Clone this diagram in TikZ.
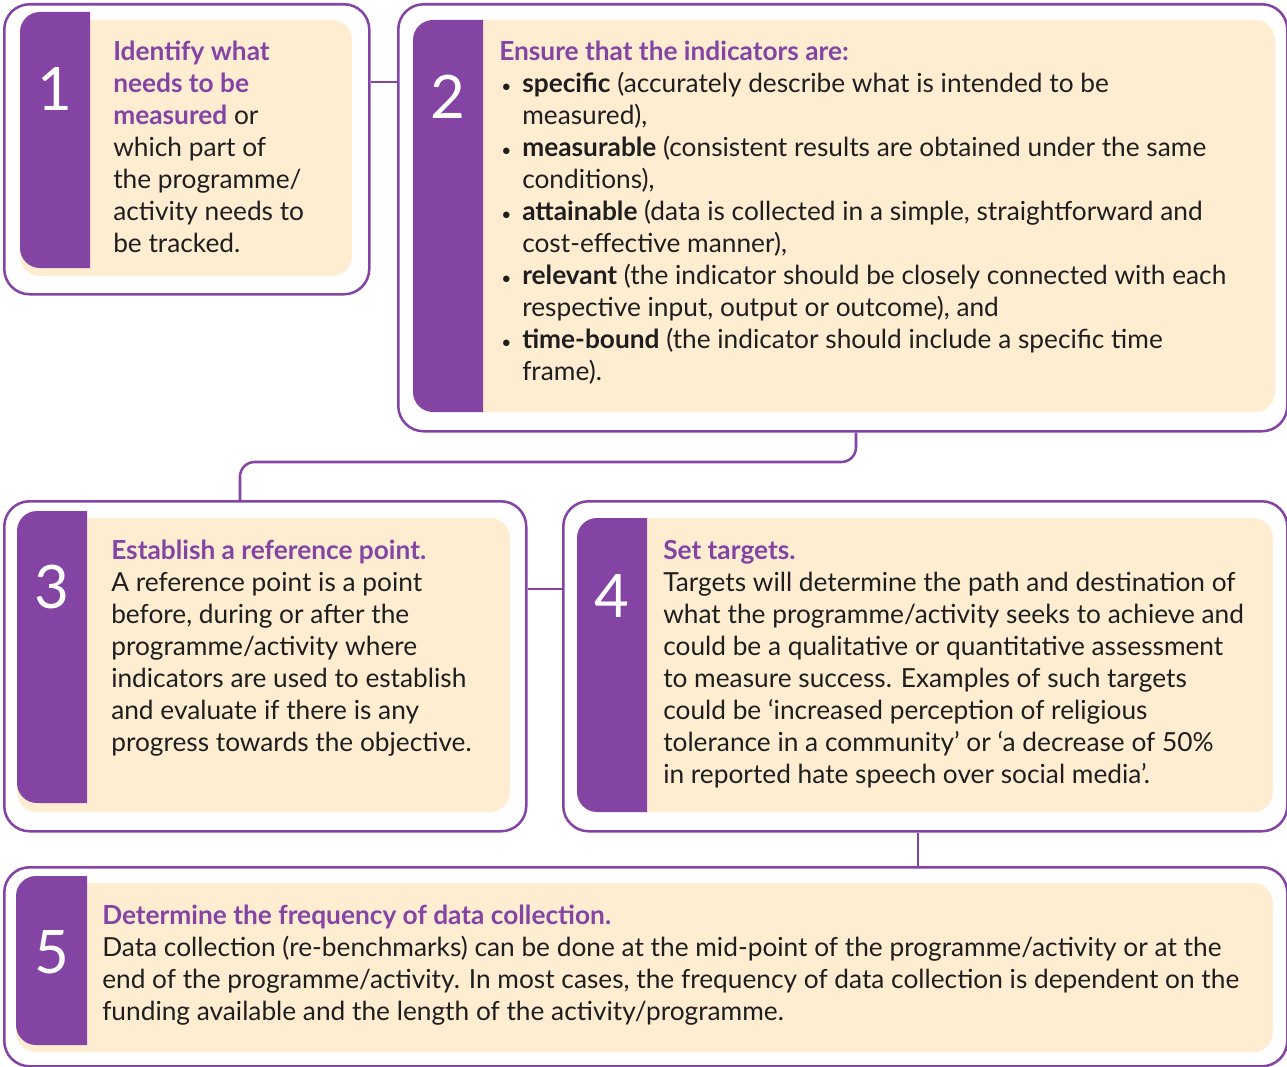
\documentclass[tikz,border=0pt]{standalone}
\usepackage{fontspec}
\setmainfont{Lato}
\usepackage{xcolor}
\usetikzlibrary{positioning}

\definecolor{stepPurple}{HTML}{8444A3}
\definecolor{stepCream}{HTML}{FFEDD2}
\definecolor{stepInk}{HTML}{1E1E1E}

\newcommand\bul{\makebox[17.25pt][l]{\hspace{1.5pt}\raisebox{0.5pt}{\fontsize{13}{13}\selectfont\textbullet}}}
\newcommand\ind{\hspace*{17.25pt}}
\newcommand\hd[1]{{\color{stepPurple}\bfseries #1}}
% purple tab with rounded left corners only
\newcommand\steptab[4]{%
  \begin{scope}
    \clip (#1,#2) rectangle (#3,#4);
    \fill[stepPurple, rounded corners=15pt] (#1,#2) rectangle (#3+40,#4);
  \end{scope}}

\tikzset{
  stepouter/.style 2 args={draw=stepPurple, line width=1.9pt, fill=white,
    rounded corners=19pt, inner sep=0pt, anchor=north west,
    minimum width=#1*0.75pt, minimum height=#2*0.75pt},
  stepcream/.style={fill=stepCream, rounded corners=15pt},
  steplink/.style={draw=stepPurple, line width=1.9pt},
  stepnum/.style={text=white, font=\fontsize{45}{45}\selectfont},
  steptext/.style={text=stepInk, align=left, inner sep=0pt, anchor=north west,
    font=\fontsize{19.7}{24}\selectfont},
}

\begin{document}
\begin{tikzpicture}[x=0.75pt, y=-0.75pt]
    \useasboundingbox (0,0) rectangle (1287,1066);

    % outer frames
    \node[stepouter={365}{290}] (step1) at (3,3) {};
    \node[stepouter={889}{427}] (step2) at (397,3) {};
    \node[stepouter={522}{330}] (step3) at (3,500) {};
    \node[stepouter={724}{330}] (step4) at (562,500) {};
    \node[stepouter={1283}{199}] (step5) at (3,866) {};

    % links
    \coordinate (j12) at (380,82);
    \coordinate (j23) at (856,462);
    \coordinate (j3) at (240,480);
    \coordinate (j34) at (540,589);
    \coordinate (j45) at (918,848);
    \draw[steplink] (step1.east |- j12) -- (step2.west |- j12);
    \draw[steplink, rounded corners=11pt] (step2.south -| j23) -- (j23) -| (step3.north -| j3);
    \draw[steplink] (step3.east |- j34) -- (step4.west |- j34);
    \draw[steplink] (step4.south -| j45) -- (step5.north -| j45);

    % cream panels and tabs
    \fill[stepcream] (20,20) rectangle (352,276);
    \steptab{20}{12}{90}{268}
    \fill[stepcream] (413,20) rectangle (1275,412);
    \steptab{413}{20}{483}{412}
    \fill[stepcream] (17,518) rectangle (510,812);
    \steptab{17}{511}{87}{803}
    \fill[stepcream] (577,518) rectangle (1273,812);
    \steptab{577}{518}{647}{812}
    \fill[stepcream] (16,883) rectangle (1273,1052);
    \steptab{16}{876}{87}{1045}

    % numbers
    \node[stepnum] (n1) at (55,89) {1};
    \node[stepnum] (n2) at (448,97) {2};
    \node[stepnum] (n3) at (52,587) {3};
    \node[stepnum] (n4) at (612,596) {4};
    \node[stepnum] (n5) at (52,952) {5};

    % texts
    \node[steptext] (t1) at (113,41) {\hd{Identify what}\\
      \hd{needs to be}\\
      \hd{measured} or\\
      which part of\\
      the programme/\\
      activity needs to\\
      be tracked.};
    \node[steptext] (t2) at (499,41) {\hd{Ensure that the indicators are:}\\
      \bul\textbf{specific} (accurately describe what is intended to be\\
      \ind measured),\\
      \bul\textbf{measurable} (consistent results are obtained under the same\\
      \ind conditions),\\
      \bul\textbf{attainable} (data is collected in a simple, straightforward and\\
      \ind cost-effective manner),\\
      \bul\textbf{relevant} (the indicator should be closely connected with each\\
      \ind respective input, output or outcome), and\\
      \bul\textbf{time-bound} (the indicator should include a specific time\\
      \ind frame).};
    \node[steptext] (t3) at (111,540) {\hd{Establish a reference point.}\\
      A reference point is a point\\
      before, during or after the\\
      programme/activity where\\
      indicators are used to establish\\
      and evaluate if there is any\\
      progress towards the objective.};
    \node[steptext] (t4) at (663,540) {\hd{Set targets.}\\
      Targets will determine the path and destination of\\
      what the programme/activity seeks to achieve and\\
      could be a qualitative or quantitative assessment\\
      to measure success. Examples of such targets\\
      could be ‘increased perception of religious\\
      tolerance in a community’ or ‘a decrease of 50\%\\
      in reported hate speech over social media’.};
    \node[steptext] (t5) at (102,905) {\hd{Determine the frequency of data collection.}\\
      Data collection (re-benchmarks) can be done at the mid-point of the programme/activity or at the\\
      end of the programme/activity. In most cases, the frequency of data collection is dependent on the\\
      funding available and the length of the activity/programme.};
\end{tikzpicture}
\end{document}
